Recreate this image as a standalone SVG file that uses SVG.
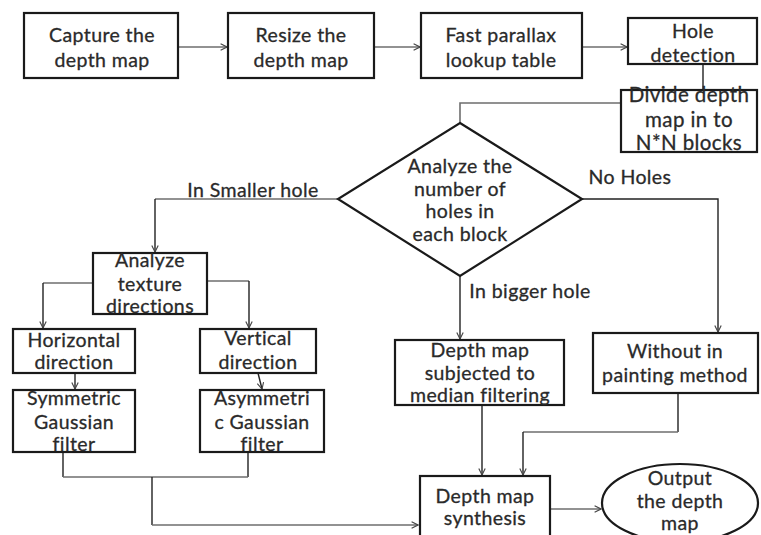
<svg xmlns="http://www.w3.org/2000/svg" width="761" height="535" viewBox="0 0 761 535">
<style>
.box{fill:#fff;stroke:#1a1a1a;stroke-width:2.2}
.t{font-family:Lato,"Open Sans",sans-serif;fill:#2a2a2a;stroke:#2a2a2a;stroke-width:0.3;text-anchor:middle;font-size:19.5px;letter-spacing:0.4px}
.xl{font-size:20.5px}
.c{fill:none;stroke:#6e6e6e;stroke-width:1.6}
.ck{fill:none;stroke:#222;stroke-width:1.4}
</style>
<defs>
<marker id="a" viewBox="0 0 10 10" refX="9" refY="5" markerWidth="8" markerHeight="8" markerUnits="userSpaceOnUse" orient="auto">
<path d="M1,1 L9,5 L1,9" fill="none" stroke="#444" stroke-width="1.4"/>
</marker>
</defs>
<rect width="761" height="535" fill="#fff"/>
<g id="connectors">
<path class="c" d="M178,47 H227" marker-end="url(#a)"/>
<path class="c" d="M374,47 H420" marker-end="url(#a)"/>
<path class="c" d="M582,47 H627" marker-end="url(#a)"/>
<path class="ck" d="M703,64 V90"/>
<path class="c" d="M621,103 H460 V123"/>
<path class="c" d="M338,199 H155"/>
<path class="ck" d="M155,199 V252" marker-end="url(#a)"/>
<path class="ck" d="M582,199 H718 V332" marker-end="url(#a)"/>
<path class="ck" d="M460,276 V339" marker-end="url(#a)"/>
<path class="c" d="M93,283 H43"/>
<path class="ck" d="M43,283 V328" marker-end="url(#a)"/>
<path class="c" d="M207,281 H249"/>
<path class="ck" d="M249,281 V328" marker-end="url(#a)"/>
<path class="ck" d="M75,373 V389" marker-end="url(#a)"/>
<path class="ck" d="M258,373 L262,389" marker-end="url(#a)"/>
<path class="ck" d="M63,452 V477"/>
<path class="ck" d="M248,452 V477"/>
<path class="c" d="M63,477 H248"/>
<path class="ck" d="M152,477 V525"/>
<path class="c" d="M152,525 H418" marker-end="url(#a)"/>
<path class="ck" d="M482,405 V475" marker-end="url(#a)"/>
<path class="ck" d="M678,393 V432"/>
<path class="c" d="M678,432 H523"/>
<path class="ck" d="M523,432 V475" marker-end="url(#a)"/>
<path class="c" d="M550,509 H601" marker-end="url(#a)"/>
</g>
<g id="n1"><rect class="box" x="24" y="13" width="154" height="65"/>
<text class="t" x="102" y="42">Capture the</text><text class="t" x="102" y="67">depth map</text></g>
<g id="n2"><rect class="box" x="228" y="13" width="146" height="65"/>
<text class="t" x="301" y="42">Resize the</text><text class="t" x="301" y="67">depth map</text></g>
<g id="n3"><rect class="box" x="421" y="13" width="161" height="65"/>
<text class="t" x="501" y="42">Fast parallax</text><text class="t" x="501" y="67">lookup table</text></g>
<g id="n4"><rect class="box" x="628" y="18" width="129" height="46"/>
<text class="t" x="693" y="38">Hole</text><text class="t" x="693" y="62">detection</text></g>
<g id="n5"><rect class="box" x="621" y="90" width="136" height="62"/>
<text class="t xl" x="689" y="102">Divide depth</text><text class="t xl" x="689" y="127">map in to</text><text class="t xl" x="689" y="150">N*N blocks</text></g>
<g id="n6"><polygon class="box" points="460,123 582,199 460,276 338,199"/>
<text class="t" x="460" y="173">Analyze the</text><text class="t" x="460" y="196">number of</text><text class="t" x="460" y="218">holes in</text><text class="t" x="460" y="241">each block</text></g>
<g id="labels">
<text class="t" x="253" y="197">In Smaller hole</text>
<text class="t" x="630" y="184">No Holes</text>
<text class="t" x="530" y="298">In bigger hole</text>
</g>
<g id="n7"><rect class="box" x="93" y="253" width="114" height="61"/>
<text class="t" x="150" y="267">Analyze</text><text class="t" x="150" y="291">texture</text><text class="t" x="150" y="313">directions</text></g>
<g id="n8"><rect class="box" x="13" y="329" width="122" height="44"/>
<text class="t" x="74" y="347">Horizontal</text><text class="t" x="74" y="369">direction</text></g>
<g id="n9"><rect class="box" x="200" y="329" width="116" height="44"/>
<text class="t" x="258" y="345">Vertical</text><text class="t" x="258" y="369">direction</text></g>
<g id="n10"><rect class="box" x="13" y="390" width="122" height="62"/>
<text class="t" x="74" y="405">Symmetric</text><text class="t" x="74" y="429">Gaussian</text><text class="t" x="74" y="451">filter</text></g>
<g id="n11"><rect class="box" x="200" y="390" width="124" height="62"/>
<text class="t" x="262" y="405">Asymmetri</text><text class="t" x="262" y="429">c Gaussian</text><text class="t" x="262" y="451">filter</text></g>
<g id="n12"><rect class="box" x="395" y="340" width="169" height="65"/>
<text class="t" x="480" y="357">Depth map</text><text class="t" x="480" y="380">subjected to</text><text class="t" x="480" y="402">median filtering</text></g>
<g id="n13"><rect class="box" x="593" y="333" width="165" height="60"/>
<text class="t" x="675" y="358">Without in</text><text class="t" x="675" y="382">painting method</text></g>
<g id="n14"><rect class="box" x="420" y="476" width="130" height="70"/>
<text class="t" x="485" y="503">Depth map</text><text class="t" x="485" y="525">synthesis</text></g>
<g id="n15"><ellipse class="box" cx="680" cy="503" rx="78" ry="39"/>
<text class="t" x="680" y="485">Output</text><text class="t" x="680" y="508">the depth</text><text class="t" x="680" y="530">map</text></g>
</svg>
